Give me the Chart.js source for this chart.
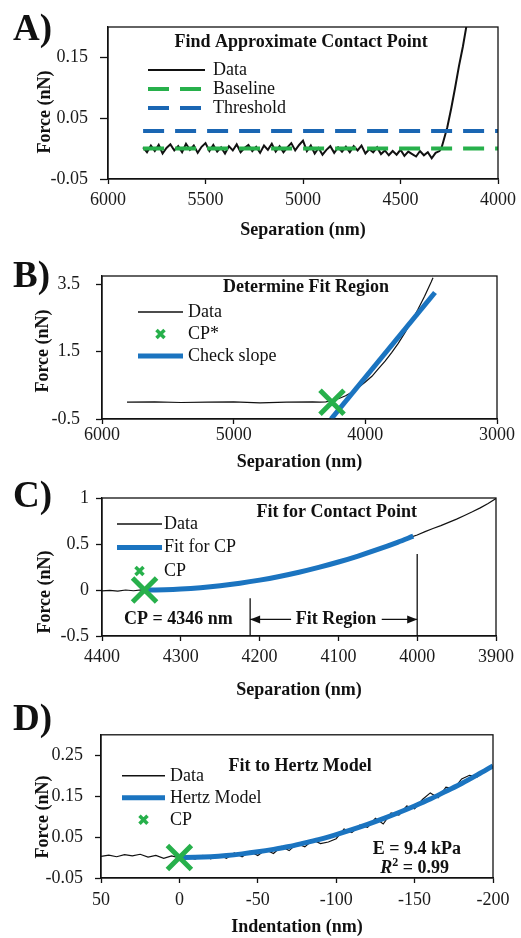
<!DOCTYPE html>
<html>
<head>
<meta charset="utf-8">
<title>Contact point and Hertz fit</title>
<script src="https://cdn.jsdelivr.net/npm/chart.js@4.4.1/dist/chart.umd.min.js"></script>
<style>
  body { margin: 0; background: #fff; }
  #page { position: relative; width: 521px; height: 938px; overflow: hidden; }
  canvas { position: absolute; left: 0; }
  .tag { position: absolute; left: 13px; font: bold 37px 'Liberation Serif', 'Times New Roman', serif; line-height: 1; color: #111; }
</style>
</head>
<body>
<div id="page">
  <canvas id="chartA" width="521" height="248" style="top:0px"></canvas>
  <canvas id="chartB" width="521" height="228" style="top:248px"></canvas>
  <canvas id="chartC" width="521" height="236" style="top:476px"></canvas>
  <canvas id="chartD" width="521" height="226" style="top:712px"></canvas>
  <div class="tag" style="top:9px">A)</div>
  <div class="tag" style="top:256px">B)</div>
  <div class="tag" style="top:476px">C)</div>
  <div class="tag" style="top:699px">D)</div>
</div>
<script>
// ---- A) find approximate contact point ----
const aSep = [5820, 5800, 5780, 5760, 5740, 5720, 5700, 5680, 5660, 5640,
  5620, 5600, 5580, 5560, 5540, 5520, 5500, 5480, 5460, 5440,
  5420, 5400, 5380, 5360, 5340, 5320, 5300, 5280, 5260, 5240,
  5220, 5200, 5180, 5160, 5140, 5120, 5100, 5080, 5060, 5040,
  5020, 5000, 4980, 4960, 4940, 4920, 4900, 4880, 4860, 4840,
  4820, 4800, 4780, 4760, 4740, 4720, 4700, 4680, 4660, 4640,
  4620, 4600, 4580, 4560, 4540, 4520, 4500, 4480, 4460, 4440,
  4420, 4400, 4380, 4360, 4340, 4320, 4300,
  4290, 4280, 4260, 4240, 4220, 4200, 4180, 4160];
const aForce = [0.002, -0.006, 0.005, -0.004, 0.006, -0.008, 0.001, 0.007, -0.003, 0.004,
  -0.006, 0.008, -0.002, 0.005, -0.007, 0.003, 0.009, -0.004, 0.006, -0.005,
  0.002, -0.008, 0.004, -0.003, 0.007, -0.006, 0.001, 0.006, -0.004, 0.003,
  -0.007, 0.005, -0.002, 0.008, -0.005, 0.004, -0.006, 0.002, 0.009, -0.003,
  0.006, 0.013, -0.004, 0.005, -0.008, 0.001, -0.010, -0.002, 0.004, -0.007,
  0.002, -0.005, 0.003, -0.006, 0.004, -0.003, 0.005, -0.008, -0.001, -0.006,
  0.002, -0.009, -0.003, -0.011, -0.004, -0.010, -0.002, -0.012, -0.005, -0.009,
  -0.013, -0.004, -0.011, -0.006, -0.016, -0.007, -0.004,
  0.001, 0.012, 0.035, 0.066, 0.100, 0.136, 0.168, 0.205];
const aBaseSep = [5820, 4000];
const aBaseForce = [0, 0];
const aThreshSep = [5820, 4000];
const aThreshForce = [0.029, 0.029];
const aXTicks = [6000, 5500, 5000, 4500, 4000];
const aXLabels = ['6000', '5500', '5000', '4500', '4000'];
const aYTicks = [-0.05, 0.05, 0.15];
const aYLabels = ['-0.05', '0.05', '0.15'];

// ---- B) determine fit region ----
const bSep = [5810, 5600, 5400, 5200, 5000, 4800, 4600, 4400, 4346, 4300, 4250, 4200, 4150, 4100,
  4050, 4000, 3950, 3900, 3850, 3800, 3750, 3700, 3650, 3600, 3550, 3500, 3486];
const bForce = [0.0, 0.01, -0.01, 0.0, 0.01, -0.02, 0.0, 0.01, 0.0, 0.01, 0.05, 0.11, 0.19, 0.3,
  0.44, 0.6, 0.77, 1.0, 1.22, 1.47, 1.75, 2.06, 2.4, 2.76, 3.15, 3.57, 3.7];
const bCpSep = [4253];
const bCpForce = [0];
const bSlopeSep = [4260, 3471];
const bSlopeForce = [-0.5, 3.26];
const bXTicks = [6000, 5000, 4000, 3000];
const bXLabels = ['6000', '5000', '4000', '3000'];
const bYTicks = [-0.5, 1.5, 3.5];
const bYLabels = ['-0.5', '1.5', '3.5'];

// ---- C) fit for contact point ----
const cSep = [4400, 4390, 4380, 4370, 4360, 4350, 4340, 4330, 4320, 4310,
  4300, 4290, 4280, 4270, 4260, 4250, 4240, 4230, 4220, 4210,
  4200, 4190, 4180, 4170, 4160, 4150, 4140, 4130, 4120, 4110,
  4100, 4090, 4080, 4070, 4060, 4050, 4040, 4030, 4020, 4010,
  4000, 3990, 3980, 3970, 3960, 3950, 3940, 3930, 3920, 3910, 3900];
const cForce = [-0.01, -0.005, -0.012, 0.0, -0.008, 0.002, -0.003, 0.004, -0.002, 0.008,
  0.009, 0.018, 0.02, 0.031, 0.036, 0.047, 0.055, 0.069, 0.078, 0.095,
  0.106, 0.124, 0.137, 0.158, 0.172, 0.195, 0.211, 0.236, 0.255, 0.282,
  0.302, 0.331, 0.354, 0.385, 0.409, 0.443, 0.468, 0.504, 0.532, 0.57,
  0.598, 0.635, 0.668, 0.70, 0.735, 0.77, 0.81, 0.85, 0.893, 0.94, 0.995];
const cFitSep = [4346, 4320, 4300, 4275, 4250, 4225, 4200, 4175, 4150, 4125, 4100, 4075, 4050, 4025, 4005];
const cFitForce = [0, 0.0034, 0.0106, 0.0254, 0.0463, 0.0736, 0.1072, 0.1471, 0.1931, 0.2456,
  0.3042, 0.3692, 0.4405, 0.518, 0.585];
const cCpSep = [4346];
const cCpForce = [0];
const cXTicks = [4400, 4300, 4200, 4100, 4000, 3900];
const cXLabels = ['4400', '4300', '4200', '4100', '4000', '3900'];
const cYTicks = [-0.5, 0, 0.5, 1];
const cYLabels = ['-0.5', '0', '0.5', '1'];

// ---- D) fit to Hertz model ----
const dInd = [50, 45, 40, 35, 30, 25, 20, 15, 10, 5,
  0, -5, -10, -15, -20, -25, -30, -35, -40, -45,
  -50, -55, -60, -65, -70, -75, -80, -85, -90, -95,
  -100, -105, -110, -115, -120, -125, -130, -135, -140, -145,
  -150, -155, -160, -165, -170, -175, -180, -185, -190, -195, -200];
const dForce = [0.003, 0.006, 0.002, 0.007, 0.004, 0.008, 0.001, 0.005, -0.002, 0.004,
  -0.001, 0.002, -0.004, 0.005, -0.003, 0.007, -0.002, 0.011, 0.002, 0.015,
  0.005, 0.019, 0.010, 0.027, 0.017, 0.034, 0.026, 0.043, 0.034, 0.038,
  0.046, 0.070, 0.061, 0.079, 0.074, 0.096, 0.082, 0.109, 0.104, 0.126,
  0.119, 0.142, 0.158, 0.146, 0.172, 0.168, 0.192, 0.201, 0.197, 0.216, 0.222];
const dFitInd = [0, -10, -20, -30, -40, -50, -60, -70, -80, -90, -100,
  -110, -120, -130, -140, -150, -160, -170, -180, -190, -200];
const dFitForce = [0, 0.0006, 0.0022, 0.005, 0.009, 0.014, 0.020, 0.027, 0.036, 0.045, 0.056,
  0.068, 0.081, 0.095, 0.110, 0.126, 0.143, 0.162, 0.181, 0.202, 0.224];
const dCpInd = [0];
const dCpForce = [0];
const dXTicks = [50, 0, -50, -100, -150, -200];
const dXLabels = ['50', '0', '-50', '-100', '-150', '-200'];
const dYTicks = [-0.05, 0.05, 0.15, 0.25];
const dYLabels = ['-0.05', '0.05', '0.15', '0.25'];

const FONT = "'Liberation Serif', 'Times New Roman', serif";
const BLACK = '#111111';
const GREEN = '#27b04b';
const BLUE = '#1b74c0';
const DARKBLUE = '#1a66b3';

Chart.defaults.font.family = FONT;
Chart.defaults.font.size = 18;
Chart.defaults.color = '#1a1a1a';

function pairs(xs, ys) {
  return xs.map((x, i) => ({x: x, y: ys[i]}));
}

function curve(label, xs, ys, style) {
  return Object.assign({
    label: label,
    data: pairs(xs, ys),
    showLine: true,
    pointRadius: 0,
    pointHoverRadius: 0,
    borderColor: BLACK,
    borderWidth: 1.2,
    tension: 0,
    fill: false
  }, style);
}

function cross(label, xs, ys) {
  return {
    label: label,
    data: pairs(xs, ys),
    showLine: false,
    pointStyle: 'crossRot',
    pointRadius: 17,
    pointHoverRadius: 17,
    borderColor: GREEN,
    backgroundColor: GREEN,
    borderWidth: 5,
    order: 1
  };
}

// frame, rotated y title, legend inside the plot and annotations
const panelDecor = {
  id: 'panelDecor',
  afterDraw(chart, args, o) {
    const {ctx, chartArea: ca} = chart;
    const px = v => chart.scales.x.getPixelForValue(v);
    const py = v => chart.scales.y.getPixelForValue(v);
    ctx.save();
    ctx.strokeStyle = BLACK;
    ctx.lineWidth = 1.3;
    ctx.strokeRect(ca.left, ca.top, ca.width, ca.height);

    ctx.save();
    ctx.translate(o.yTitle.x, o.yTitle.y);
    ctx.rotate(-Math.PI / 2);
    ctx.font = 'bold 18px ' + FONT;
    ctx.fillStyle = BLACK;
    ctx.textAlign = 'center';
    ctx.textBaseline = 'middle';
    ctx.fillText(o.yTitle.text, 0, 0);
    ctx.restore();

    const lg = o.legend;
    chart.data.datasets.forEach((ds, i) => {
      const cy = ca.top + lg.top + i * lg.row;
      const x0 = ca.left + lg.left;
      ctx.save();
      ctx.strokeStyle = ds.borderColor;
      if (ds.showLine) {
        ctx.lineWidth = Math.max(ds.borderWidth, 1.6);
        ctx.setLineDash(ds.borderDash || []);
        ctx.beginPath();
        ctx.moveTo(x0, cy);
        ctx.lineTo(x0 + lg.width, cy);
        ctx.stroke();
      } else {
        const cx = x0 + lg.width / 2, r = 4;
        ctx.lineWidth = 3.5;
        ctx.beginPath();
        ctx.moveTo(cx - r, cy - r); ctx.lineTo(cx + r, cy + r);
        ctx.moveTo(cx + r, cy - r); ctx.lineTo(cx - r, cy + r);
        ctx.stroke();
      }
      ctx.restore();
      ctx.font = '18px ' + FONT;
      ctx.fillStyle = BLACK;
      ctx.textAlign = 'left';
      ctx.textBaseline = 'middle';
      ctx.fillText(ds.label, x0 + lg.width + lg.gap, cy);
    });

    ctx.strokeStyle = BLACK;
    ctx.fillStyle = BLACK;
    ctx.lineWidth = 1.3;
    (o.lines || []).forEach(l => {
      const x1 = px(l.from[0]), y1 = py(l.from[1]);
      const x2 = px(l.to[0]), y2 = py(l.to[1]);
      ctx.beginPath();
      ctx.moveTo(x1, y1);
      ctx.lineTo(x2, y2);
      ctx.stroke();
      if (l.head) {
        const dir = Math.sign(x2 - x1);
        ctx.beginPath();
        ctx.moveTo(x2, y2);
        ctx.lineTo(x2 - dir * 10, y2 - 4);
        ctx.lineTo(x2 - dir * 10, y2 + 4);
        ctx.closePath();
        ctx.fill();
      }
    });

    ctx.textBaseline = 'middle';
    ctx.textAlign = 'left';
    (o.texts || []).forEach(t => {
      const parts = t.parts || [{t: t.text, font: 'bold 18px'}];
      let total = 0;
      parts.forEach(p => { ctx.font = p.font + ' ' + FONT; total += ctx.measureText(p.t).width; });
      let x = px(t.x) - total / 2;
      const y = py(t.y);
      parts.forEach(p => {
        ctx.font = p.font + ' ' + FONT;
        ctx.fillText(p.t, x, y + (p.dy || 0));
        x += ctx.measureText(p.t).width;
      });
    });
    ctx.restore();
  }
};

function makePanel(id, p) {
  const bandBottom = p.band[0] + p.band[1];
  const a = p.area;
  return new Chart(document.getElementById(id), {
    type: 'scatter',
    data: {datasets: p.datasets},
    options: {
      responsive: false,
      animation: false,
      events: [],
      layout: {padding: {left: 0, right: 521 - a.right, top: a.top - p.band[0], bottom: 0}},
      plugins: {
        legend: {display: false},
        tooltip: {enabled: false},
        panelDecor: p.decor
      },
      scales: {
        x: {
          type: 'linear',
          reverse: true,
          min: p.xRange[0],
          max: p.xRange[1],
          afterFit: s => { s.height = bandBottom - a.bottom; },
          afterBuildTicks: s => { s.ticks = p.xTicks.map(v => ({value: v})); },
          ticks: {
            autoSkip: false,
            maxRotation: 0,
            padding: p.xPad,
            color: '#1a1a1a',
            callback: (v, i) => p.xLabels[i]
          },
          grid: {drawOnChartArea: false, drawTicks: true, tickLength: 5, tickColor: BLACK, tickWidth: 1.3},
          border: {display: true, color: BLACK, width: 1.3},
          title: {
            display: true,
            text: p.xTitle,
            color: BLACK,
            font: {weight: 'bold', size: 18},
            padding: {top: 0, bottom: p.xTitlePad}
          }
        },
        y: {
          type: 'linear',
          min: p.yRange[0],
          max: p.yRange[1],
          afterFit: s => { s.width = a.left; },
          afterBuildTicks: s => { s.ticks = p.yTicks.map(v => ({value: v})); },
          ticks: {
            autoSkip: false,
            padding: p.yPad,
            color: '#1a1a1a',
            callback: (v, i) => p.yLabels[i]
          },
          grid: {drawOnChartArea: false, drawTicks: true, tickLength: p.yTick, tickColor: BLACK, tickWidth: 1.3},
          border: {display: true, color: BLACK, width: 1.3}
        }
      }
    },
    plugins: [panelDecor]
  });
}

makePanel('chartA', {
  band: [0, 248],
  area: {left: 108, right: 500, top: 27, bottom: 179},
  xRange: [4000, 6000], yRange: [-0.05, 0.2],
  xTicks: aXTicks, xLabels: aXLabels, yTicks: aYTicks, yLabels: aYLabels,
  xPad: 5, xTitlePad: 7, yPad: 12, yTick: 8,
  xTitle: 'Separation (nm)',
  datasets: [
    curve('Data', aSep, aForce, {borderWidth: 2, order: 3}),
    curve('Baseline', aBaseSep, aBaseForce, {borderColor: GREEN, borderWidth: 4, borderDash: [21, 11], order: 1}),
    curve('Threshold', aThreshSep, aThreshForce, {borderColor: DARKBLUE, borderWidth: 4, borderDash: [21, 11], order: 2})
  ],
  decor: {
    yTitle: {text: 'Force (nN)', x: 45, y: 112},
    legend: {left: 40, width: 57, gap: 8, top: 43, row: 19},
    texts: [{text: 'Find Approximate Contact Point', x: 5010, y: 0.175}]
  }
});

makePanel('chartB', {
  band: [248, 228],
  area: {left: 102, right: 497, top: 276, bottom: 419},
  xRange: [3000, 6000], yRange: [-0.5, 3.75],
  xTicks: bXTicks, xLabels: bXLabels, yTicks: bYTicks, yLabels: bYLabels,
  xPad: 0, xTitlePad: 3, yPad: 16, yTick: 6,
  xTitle: 'Separation (nm)',
  datasets: [
    curve('Data', bSep, bForce, {order: 3}),
    cross('CP*', bCpSep, bCpForce),
    curve('Check slope', bSlopeSep, bSlopeForce, {borderColor: BLUE, borderWidth: 5, order: 2})
  ],
  decor: {
    yTitle: {text: 'Force (nN)', x: 43, y: 103},
    legend: {left: 36, width: 45, gap: 5, top: 36, row: 22},
    texts: [{text: 'Determine Fit Region', x: 4451, y: 3.42}]
  }
});

makePanel('chartC', {
  band: [476, 236],
  area: {left: 102, right: 496, top: 487, bottom: 636},
  xRange: [3900, 4400], yRange: [-0.5, 1],
  xTicks: cXTicks, xLabels: cXLabels, yTicks: cYTicks, yLabels: cYLabels,
  xPad: 5, xTitlePad: 11, yPad: 7, yTick: 6,
  xTitle: 'Separation (nm)',
  datasets: [
    curve('Data', cSep, cForce, {order: 3}),
    curve('Fit for CP', cFitSep, cFitForce, {borderColor: BLUE, borderWidth: 5, cubicInterpolationMode: 'monotone', order: 2}),
    cross('CP', cCpSep, cCpForce)
  ],
  decor: {
    yTitle: {text: 'Force (nN)', x: 45, y: 116},
    legend: {left: 15, width: 45, gap: 2, top: 26, row: 23.5},
    lines: [
      {from: [4212, -0.5], to: [4212, -0.09]},
      {from: [4000, -0.5], to: [4000, 0.39]},
      {from: [4160, -0.32], to: [4212, -0.32], head: true},
      {from: [4045, -0.32], to: [4000, -0.32], head: true}
    ],
    texts: [
      {text: 'Fit for Contact Point', x: 4102, y: 0.84},
      {text: 'CP = 4346 nm', x: 4303, y: -0.32},
      {text: 'Fit Region', x: 4103, y: -0.32}
    ]
  }
});

makePanel('chartD', {
  band: [712, 226],
  area: {left: 101, right: 493, top: 728, bottom: 878},
  xRange: [-200, 50], yRange: [-0.05, 0.3],
  xTicks: dXTicks, xLabels: dXLabels, yTicks: dYTicks, yLabels: dYLabels,
  xPad: 6, xTitlePad: 0, yPad: 12, yTick: 6,
  xTitle: 'Indentation (nm)',
  datasets: [
    curve('Data', dInd, dForce, {order: 3}),
    curve('Hertz Model', dFitInd, dFitForce, {borderColor: BLUE, borderWidth: 5, cubicInterpolationMode: 'monotone', order: 2}),
    cross('CP', dCpInd, dCpForce)
  ],
  decor: {
    yTitle: {text: 'Force (nN)', x: 43, y: 105},
    legend: {left: 21, width: 43, gap: 5, top: 41, row: 22},
    texts: [
      {text: 'Fit to Hertz Model', x: -77, y: 0.222},
      {text: 'E = 9.4 kPa', x: -151.5, y: 0.0205},
      {x: -150, y: -0.027, parts: [
        {t: 'R', font: 'italic bold 18px'},
        {t: '2', font: 'bold 12px', dy: -6},
        {t: ' = 0.99', font: 'bold 18px'}
      ]}
    ]
  }
});
</script>
</body>
</html>
